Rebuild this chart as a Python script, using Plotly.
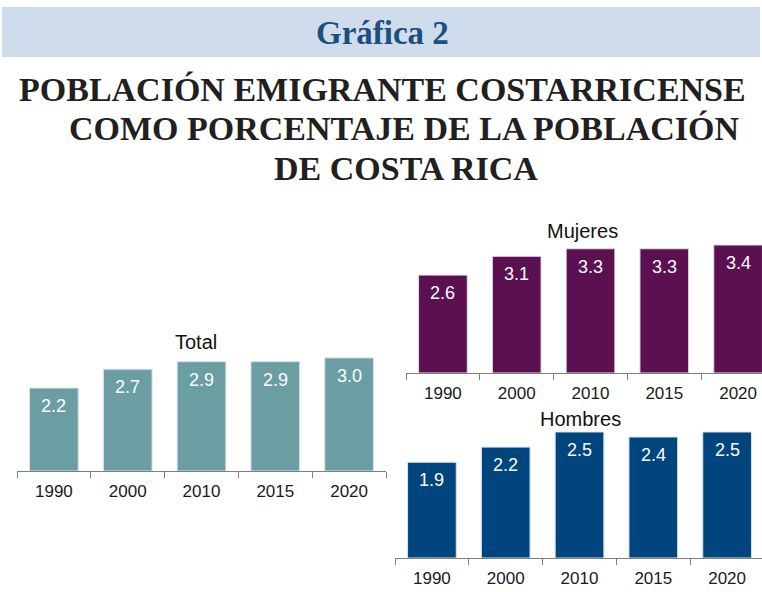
import plotly.graph_objects as go

W, H = 762, 592

years = ["1990", "2000", "2010", "2015", "2020"]
total_vals = [2.2, 2.7, 2.9, 2.9, 3.0]
mujeres_vals = [2.6, 3.1, 3.3, 3.3, 3.4]
hombres_vals = [1.9, 2.2, 2.5, 2.4, 2.5]
value_labels_total = ["2.2", "2.7", "2.9", "2.9", "3.0"]
value_labels_mujeres = ["2.6", "3.1", "3.3", "3.3", "3.4"]
value_labels_hombres = ["1.9", "2.2", "2.5", "2.4", "2.5"]

header_text = "Gráfica 2"
title_lines = [
    "POBLACIÓN EMIGRANTE COSTARRICENSE",
    "COMO PORCENTAJE DE LA POBLACIÓN",
    "DE COSTA RICA",
]
panel_titles = ["Total", "Mujeres", "Hombres"]

C_TOTAL = "#6a9ea3"
C_MUJ = "#5c1052"
C_HOM = "#00457e"
SANS = "Liberation Sans, Arial, sans-serif"
SERIF = "Liberation Serif, Times New Roman, serif"


def fx(px):
    return px / W


def fy(py):
    return 1 - py / H


fig = go.Figure()

panels = [
    (total_vals, value_labels_total, C_TOTAL, "x", "y"),
    (mujeres_vals, value_labels_mujeres, C_MUJ, "x2", "y2"),
    (hombres_vals, value_labels_hombres, C_HOM, "x3", "y3"),
]

annotations = []
for vals, labs, col, xa, ya in panels:
    fig.add_trace(go.Bar(
        x=years, y=vals, width=0.66, xaxis=xa, yaxis=ya,
        marker=dict(color=col, line=dict(color="#d8e2ea", width=1)),
        hoverinfo="x+y", showlegend=False,
    ))
    # category axes: annotation x uses the category serial number
    for i, (v, lab) in enumerate(zip(vals, labs)):
        annotations.append(dict(
            x=i, y=v, xref=xa, yref=ya, text=lab, showarrow=False,
            xanchor="center", yanchor="middle", yshift=-18,
            font=dict(family=SANS, size=18, color="white"),
        ))

axis_common = dict(
    type="category", showgrid=False, zeroline=False,
    showline=True, linecolor="#7f7f7f", linewidth=1,
    ticks="outside", ticklen=6, tickcolor="#7f7f7f", tickwidth=1,
    tickson="boundaries", ticklabelstandoff=5,
    tickfont=dict(family=SANS, size=17, color="#1a1a1a"),
    fixedrange=True,
)
yaxis_common = dict(visible=False, showgrid=False, zeroline=False, fixedrange=True)

t_rng = 3.3
m_rng = 3.6
h_rng = 2.6

fig.update_layout(
    width=W, height=H,
    margin=dict(l=0, r=0, t=0, b=0),
    paper_bgcolor="white", plot_bgcolor="rgba(0,0,0,0)",
    xaxis=dict(domain=[fx(17), fx(386)], range=[-0.5, 4.5], anchor="y", **axis_common),
    yaxis=dict(domain=[fy(471), fy(471 - 37.7 * t_rng)], range=[0, t_rng], anchor="x", **yaxis_common),
    xaxis2=dict(domain=[fx(406), 1], range=[-0.5, -0.5 + 356 / 73.8], anchor="y2", **axis_common),
    yaxis2=dict(domain=[fy(373), fy(373 - 37.65 * m_rng)], range=[0, m_rng], anchor="x2", **yaxis_common),
    xaxis3=dict(domain=[fx(395), 1], range=[-0.5, -0.5 + 367 / 73.8], anchor="y3", **axis_common),
    yaxis3=dict(domain=[fy(558), fy(558 - 50.4 * h_rng)], range=[0, h_rng], anchor="x3", **yaxis_common),
)

fig.add_shape(type="rect", xref="paper", yref="paper",
              x0=fx(2), x1=fx(760), y0=fy(57), y1=fy(7),
              fillcolor="#cfdcec", line=dict(width=0), layer="below")

annotations.append(dict(
    x=fx(383), y=fy(33), xref="paper", yref="paper", text="<b>" + header_text + "</b>",
    showarrow=False, xanchor="center", yanchor="middle",
    font=dict(family=SERIF, size=33, color="#1d4e80"),
))

title_pos = [(383, 89), (404, 129), (406, 168)]
for line, (cx, cy) in zip(title_lines, title_pos):
    annotations.append(dict(
        x=fx(cx), y=fy(cy), xref="paper", yref="paper", text="<b>" + line + "</b>",
        showarrow=False, xanchor="center", yanchor="middle",
        font=dict(family=SERIF, size=34, color="#231f20"),
    ))

panel_title_pos = [(196, 342), (582, 231), (580, 419)]
for t, (cx, cy) in zip(panel_titles, panel_title_pos):
    annotations.append(dict(
        x=fx(cx), y=fy(cy), xref="paper", yref="paper", text=t,
        showarrow=False, xanchor="center", yanchor="middle",
        font=dict(family=SANS, size=20, color="#111111"),
    ))

fig.update_layout(annotations=annotations)

fig.write_html(
    "out.html",
    config={"displayModeBar": False},
    post_script="document.body.style.margin='0';document.body.style.padding='0';",
)
